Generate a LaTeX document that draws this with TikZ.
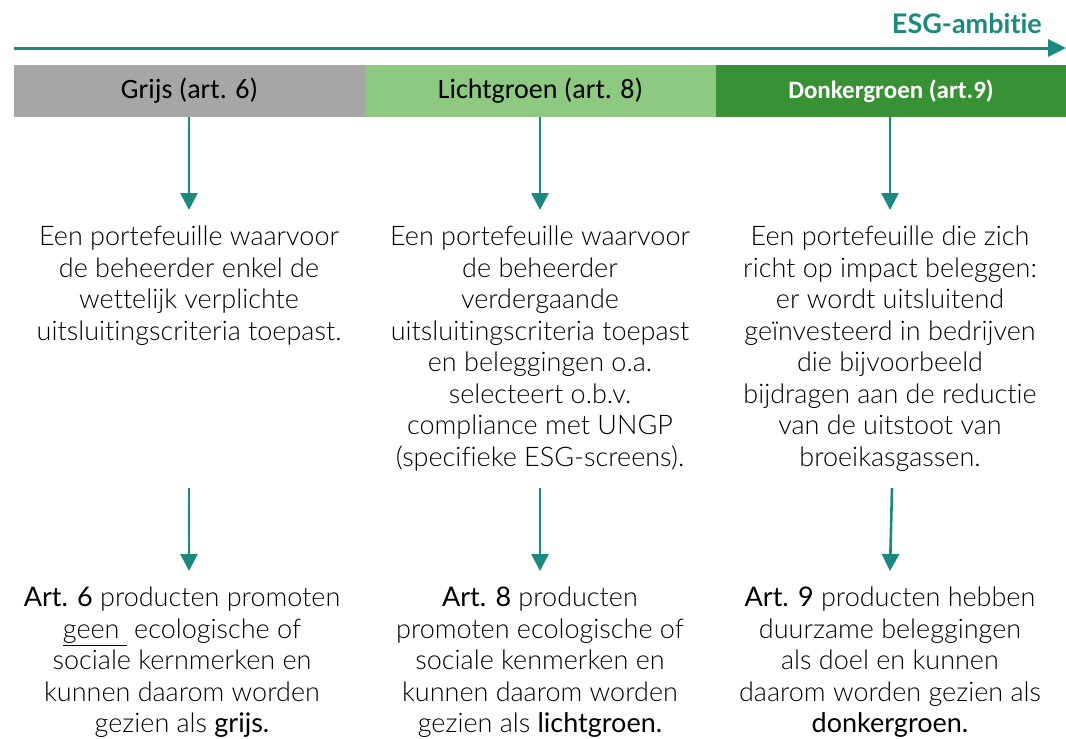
\documentclass[tikz,border=0pt]{standalone}
\usepackage{fontspec}
\IfFontExistsTF{Lato Light}
  {\setmainfont{Lato Light}[BoldFont={Lato}, Ligatures=NoCommon]}
  {\setmainfont{Lato}[Ligatures=NoCommon]}
\newfontfamily\hdr{Carlito}
\newfontfamily\esgfont{Lato}[Ligatures=NoCommon]
\usetikzlibrary{arrows.meta}
\definecolor{teal1}{RGB}{27,137,125}
\definecolor{greybar}{RGB}{166,166,166}
\definecolor{lightbar}{RGB}{141,201,129}
\definecolor{darkbar}{RGB}{56,145,53}
\begin{document}
\begin{tikzpicture}[x=1pt,y=-1pt,
  bar/.style={rectangle, inner sep=0pt, minimum height=52pt, font=\hdr\fontsize{28}{30}\selectfont},
  body/.style={anchor=north, inner sep=0pt, align=center, font=\fontsize{27}{31.5}\selectfont},
  conn/.style={draw=teal1, line width=2.6pt, -{Triangle[length=17pt,width=17pt]}}
]
\useasboundingbox (0,0) rectangle (1066,739);
% axis
\coordinate (axs) at (14,48);
\coordinate (axe) at (1066,48);
\draw[draw=teal1, line width=3pt, -{Triangle[length=18pt,width=17pt]}] (axs) -- (axe);
\node[anchor=base east, inner sep=0pt, text=teal1, font=\esgfont\bfseries\fontsize{27}{29}\selectfont] (esg) at (1042,33) {ESG-ambitie};
% header bars
\node[bar, fill=greybar, minimum width=351pt] (grijs) at (189.5,91) {Grijs (art. 6)};
\node[bar, fill=lightbar, minimum width=351pt] (licht) at (540.5,91) {Lichtgroen (art. 8)};
\node[bar, fill=darkbar, minimum width=350pt, text=white, font=\hdr\bfseries\fontsize{25}{27}\selectfont] (donker) at (891,91) {Donkergroen (art.9)};
% middle texts
\node[body] (t1) at (189,226) {Een portefeuille waarvoor\\de beheerder enkel de\\wettelijk verplichte\\uitsluitingscriteria toepast.};
\node[body] (t2) at (540,226) {Een portefeuille waarvoor\\de beheerder\\verdergaande\\uitsluitingscriteria toepast\\en beleggingen o.a.\\selecteert o.b.v.\\compliance met UNGP\\(specifieke ESG-screens).};
\node[body] (t3) at (890,226) {Een portefeuille die zich\\richt op impact beleggen:\\er wordt uitsluitend\\geïnvesteerd in bedrijven\\die bijvoorbeeld\\bijdragen aan de reductie\\van de uitstoot van\\broeikasgassen.};
% bottom texts
\node[body] (b1) at (182,587) {\textbf{Art. 6} producten promoten\\\underline{geen\ } ecologische of\\sociale kernmerken en\\kunnen daarom worden\\gezien als \textbf{grijs.}};
\node[body] (b2) at (540,587) {\textbf{Art. 8} producten\\promoten ecologische of\\sociale kenmerken en\\kunnen daarom worden\\gezien als \textbf{lichtgroen.}};
\node[body] (b3) at (890,587) {\textbf{Art. 9} producten hebben\\duurzame beleggingen\\als doel en kunnen\\daarom worden gezien als\\\textbf{donkergroen.}};
% arrow coordinates
\coordinate (a1) at (189,210);
\coordinate (a2) at (540,210);
\coordinate (a3) at (890,210);
\coordinate (c1s) at (189,488);
\coordinate (c1e) at (189,571);
\coordinate (c2s) at (540,488);
\coordinate (c2e) at (540,571);
\coordinate (c3s) at (892,488);
\coordinate (c3e) at (890,571);
% connectors
\draw[conn] (grijs.south -| a1) -- (a1);
\draw[conn] (licht.south -| a2) -- (a2);
\draw[conn] (donker.south -| a3) -- (a3);
\draw[conn] (c1s) -- (c1e);
\draw[conn] (c2s) -- (c2e);
\draw[conn] (c3s) -- (c3e);
\end{tikzpicture}
\end{document}
